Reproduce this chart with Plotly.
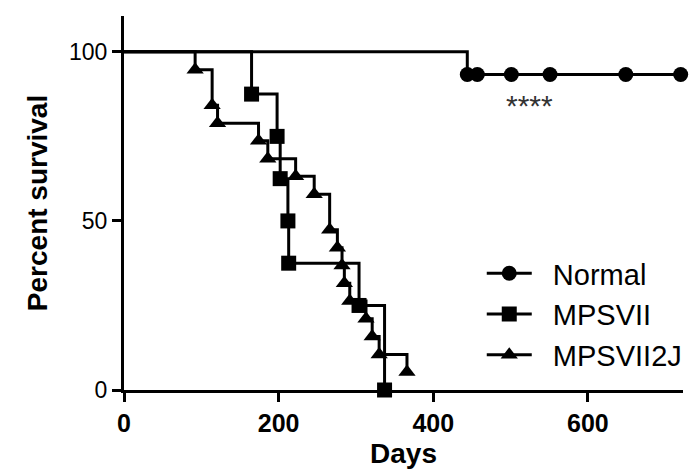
import plotly.graph_objects as go

# Kaplan-Meier data (days, percent survival at each event)
normal_days = [444, 457, 501, 551, 649, 720]
normal_surv = [93.3, 93.3, 93.3, 93.3, 93.3, 93.3]

mps_days = [165, 198, 202, 212, 213, 304, 337]
mps_surv = [87.5, 75.0, 62.5, 50.0, 37.5, 25.0, 0.0]

mps2j_days = [92, 114, 121, 174, 186, 222, 246, 266, 276, 282, 285, 292, 313, 321, 330, 366]
mps2j_surv = [94.7, 84.2, 78.9, 73.7, 68.4, 63.2, 57.9, 47.4, 42.1, 36.8, 31.6, 26.3, 21.1, 15.8, 10.5, 5.3]

series = [
    ("Normal", normal_days, normal_surv, "circle"),
    ("MPSVII", mps_days, mps_surv, "square"),
    ("MPSVII2J", mps2j_days, mps2j_surv, "triangle-up"),
]

x_ticks = [0, 200, 400, 600]
y_ticks = [0, 50, 100]

FONT = "Liberation Sans, Arial, sans-serif"
PAD = "\u00a0\u00a0"

fig = go.Figure()
for name, days, surv, sym in series:
    xs = [0] + days
    ys = [100] + surv
    fig.add_trace(go.Scatter(
        x=xs, y=ys, mode="lines", line=dict(color="black", width=3, shape="hv"),
        showlegend=False, cliponaxis=False, hoverinfo="skip"))
    fig.add_trace(go.Scatter(
        x=days, y=surv, mode="markers",
        marker=dict(symbol=sym, size=15, color="black"),
        showlegend=False, cliponaxis=False))
    # legend entry
    fig.add_trace(go.Scatter(
        x=[None], y=[None], mode="lines+markers", name=PAD + name,
        line=dict(color="black", width=3),
        marker=dict(symbol=sym, size=15, color="black")))

fig.add_annotation(x=525, y=84, text="****", showarrow=False,
                   font=dict(family=FONT, size=30, color="#333333"))

fig.update_layout(
    width=699, height=470,
    margin=dict(l=116, r=24, t=8, b=88),
    paper_bgcolor="white", plot_bgcolor="white",
    font=dict(family=FONT, color="black"),
    legend=dict(x=0.64, y=0.38, xanchor="left", yanchor="top",
                font=dict(size=29, family=FONT), bgcolor="rgba(0,0,0,0)",
                itemwidth=45, tracegroupgap=0),
    xaxis=dict(range=[0, 723], tickvals=x_ticks, showgrid=False, zeroline=False,
               showline=True, linecolor="black", linewidth=3,
               ticks="outside", ticklen=9, tickwidth=3, tickcolor="black",
               tickfont=dict(size=25, family=FONT, weight="bold"),
               title=dict(text="<b>Days</b>", font=dict(size=28, family=FONT), standoff=8)),
    yaxis=dict(range=[0, 110.6], tickvals=y_ticks, showgrid=False, zeroline=False,
               showline=True, linecolor="black", linewidth=3,
               ticks="outside", ticklen=9, tickwidth=3, tickcolor="black",
               tickfont=dict(size=23, family=FONT),
               title=dict(text="<b>Percent survival</b>", font=dict(size=28, family=FONT), standoff=14)),
)

fig.write_html("out.html")
